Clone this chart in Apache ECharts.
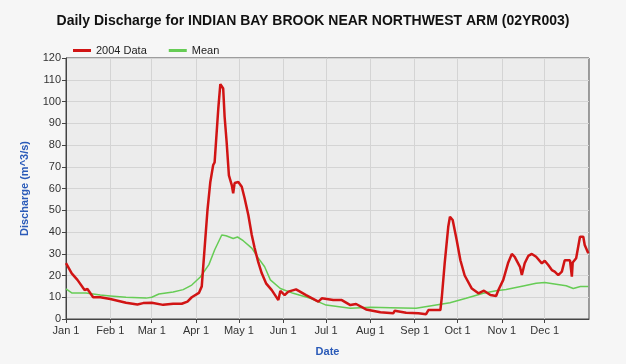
<!DOCTYPE html>
<html>
<head>
<meta charset="utf-8">
<script src="https://cdn.jsdelivr.net/npm/echarts@6/dist/echarts.min.js"></script>
<style>
html,body{margin:0;padding:0;background:#fff;}
#main{width:626px;height:364px;}
</style>
</head>
<body>
<div id="main"></div>
<script>
// month starts (day of year 2004) and their labels
var monthDays = [0, 31, 60, 91, 121, 152, 182, 213, 244, 274, 305, 335];
var monthNames = ['Jan 1', 'Feb 1', 'Mar 1', 'Apr 1', 'May 1', 'Jun 1', 'Jul 1', 'Aug 1', 'Sep 1', 'Oct 1', 'Nov 1', 'Dec 1'];

// 2004 data (day of year, m^3/s)
var dataDays = [0, 4, 8, 13, 15, 19, 24, 31, 42, 50, 54, 60, 68, 75, 81, 85, 88, 93, 95, 97, 99, 101, 103, 104, 106.6, 108, 110, 111, 112.4, 114, 116, 117, 118, 120.6, 123, 125, 127.6, 130, 132, 134.6, 137, 140, 144, 148.6, 150, 153, 155.6, 161, 168, 176.6, 179, 187, 193, 199, 203, 210, 220, 229, 230, 238, 246.6, 252, 253.6, 262, 263, 265, 267.5, 268.7, 270.6, 273.4, 276, 279, 284, 288.6, 292.5, 297, 301, 302.6, 306, 309.5, 312, 314, 317.7, 319, 321, 323.5, 326, 329, 333, 335, 337.5, 340, 342, 344.5, 347, 349, 352.7, 354, 354.6, 357, 359.7, 362, 363, 365.5];
var dataVals = [25.7, 21, 18, 13.3, 13.8, 10, 10, 9.2, 7.5, 6.7, 7.3, 7.5, 6.5, 7, 7, 8, 10, 12, 15, 32.6, 50, 63, 70.8, 72, 97, 108, 106, 93, 81.5, 66, 61.6, 57.8, 62.5, 63, 60.8, 55.5, 47.8, 38.6, 32.6, 26, 21, 16.4, 13.3, 8.7, 12.9, 11, 12.6, 13.6, 11, 8, 9.5, 8.7, 8.7, 6.4, 6.9, 4.4, 3.1, 2.6, 3.8, 2.9, 2.6, 2.2, 4.1, 4.1, 10, 25.6, 42.4, 47, 45.5, 36.3, 27, 20, 14, 11.8, 13, 11, 10.6, 13.3, 18, 26, 29.9, 28.6, 24, 20.2, 25.6, 29, 29.9, 28.6, 25.6, 26.8, 24.8, 22.5, 21.8, 20.2, 21.8, 27, 27, 19.5, 26, 27.9, 37.8, 37.8, 34, 30.2];

// mean
var meanDays = [0, 4, 14, 24, 31, 42, 56, 60, 65, 75, 82, 88, 94, 100, 104, 109, 112, 117, 120, 124, 130, 134.6, 139, 143, 150, 159, 171, 182, 199, 213, 227, 245, 254.7, 268.7, 280, 292, 301, 308, 320, 329, 335, 343, 350, 355, 360, 365.5];
var meanVals = [13.8, 12, 12, 11, 10.6, 10, 9.6, 10, 11.5, 12.4, 13.5, 15.6, 19.3, 25, 31.7, 38.6, 38.3, 37, 37.7, 36, 32.6, 28, 24, 18, 14, 11.8, 9.5, 6.4, 4.9, 5.4, 5.2, 4.9, 6, 7.5, 9.5, 11.8, 13, 13.6, 15.2, 16.4, 16.8, 16, 15.3, 14, 14.9, 14.9];

function pairs(xs, ys) {
    return xs.map(function (x, i) { return [x, ys[i]]; });
}

var chart = echarts.init(document.getElementById('main'));

var option = {
    backgroundColor: '#f6f6f6',
    animation: false,
    title: {
        text: 'Daily Discharge for INDIAN BAY BROOK NEAR NORTHWEST ARM (02YR003)',
        left: 'center',
        top: 9,
        textStyle: {fontFamily: 'Liberation Sans', fontSize: 14, fontWeight: 'bold', color: '#111'}
    },
    legend: {
        left: 68,
        top: 40,
        itemWidth: 18,
        itemHeight: 3,
        itemGap: 22,
        icon: 'rect',
        textStyle: {fontFamily: 'Liberation Sans', fontSize: 11, color: '#222'},
        data: ['2004 Data', 'Mean']
    },
    grid: {left: 66, top: 58, right: 37, bottom: 45, show: true, backgroundColor: '#ececec', borderColor: '#444', borderWidth: 1},
    xAxis: {
        type: 'value',
        min: 0,
        max: 366,
        name: 'Date',
        nameLocation: 'middle',
        nameGap: 27,
        nameTextStyle: {fontFamily: 'Liberation Sans', fontSize: 11, fontWeight: 'bold', color: '#2a5ab8'},
        axisLine: {lineStyle: {color: '#444'}},
        axisTick: {length: 4, lineStyle: {color: '#444'}, customValues: monthDays},
        axisLabel: {
            customValues: monthDays,
            fontFamily: 'Liberation Sans', fontSize: 11, color: '#333', margin: 6,
            formatter: function (v) { return monthNames[monthDays.indexOf(v)] || ''; }
        },
        splitLine: {show: true, lineStyle: {color: '#d4d4d4'}}
    },
    yAxis: {
        type: 'value',
        min: 0,
        max: 120,
        interval: 10,
        name: 'Discharge (m^3/s)',
        nameLocation: 'middle',
        nameGap: 36,
        nameTextStyle: {fontFamily: 'Liberation Sans', fontSize: 11, fontWeight: 'bold', color: '#2a5ab8'},
        axisLine: {show: true, lineStyle: {color: '#444'}},
        axisTick: {show: true, length: 4, lineStyle: {color: '#444'}},
        axisLabel: {fontFamily: 'Liberation Sans', fontSize: 11, color: '#333', margin: 5},
        splitLine: {show: true, lineStyle: {color: '#d4d4d4'}}
    },
    series: [
        {
            name: '2004 Data',
            type: 'line',
            showSymbol: false,
            color: '#d11414',
            lineStyle: {width: 2.5, color: '#d11414'},
            data: pairs(dataDays, dataVals),
            z: 3
        },
        {
            name: 'Mean',
            type: 'line',
            showSymbol: false,
            color: '#66cc55',
            lineStyle: {width: 1.5, color: '#66cc55'},
            data: pairs(meanDays, meanVals),
            z: 2
        }
    ]
};

chart.setOption(option);
</script>
</body>
</html>
